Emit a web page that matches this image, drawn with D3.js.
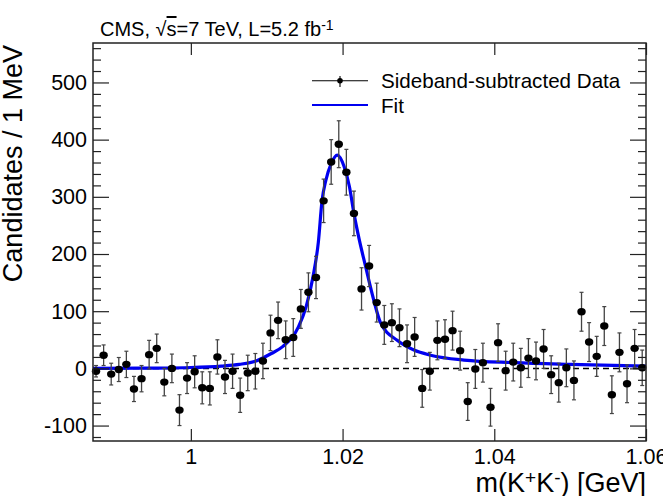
<!DOCTYPE html>
<html>
<head>
<meta charset="utf-8">
<script src="https://cdn.jsdelivr.net/npm/d3@7"></script>
<style>
  body { margin: 0; background: #fff; }
  svg { display: block; font-family: "Liberation Sans", Arial, Helvetica, sans-serif; }
</style>
</head>
<body>
<div id="chart"></div>
<script>
// bin centres (1 MeV bins) and sideband-subtracted counts
const massBins = [
  0.9875, 0.9885, 0.9895, 0.9905, 0.9915, 0.9925, 0.9935, 0.9945, 0.9955, 0.9965,
  0.9975, 0.9985, 0.9995, 1.0005, 1.0015, 1.0025, 1.0035, 1.0045, 1.0055, 1.0065,
  1.0075, 1.0085, 1.0095, 1.0105, 1.0115, 1.0125, 1.0135, 1.0145, 1.0155, 1.0165,
  1.0175, 1.0185, 1.0195, 1.0205, 1.0215, 1.0225, 1.0235, 1.0245, 1.0255, 1.0265,
  1.0275, 1.0285, 1.0295, 1.0305, 1.0315, 1.0325, 1.0335, 1.0345, 1.0355, 1.0365,
  1.0375, 1.0385, 1.0395, 1.0405, 1.0415, 1.0425, 1.0435, 1.0445, 1.0455, 1.0465,
  1.0475, 1.0485, 1.0495, 1.0505, 1.0515, 1.0525, 1.0535, 1.0545, 1.0555, 1.0565,
  1.0575, 1.0585, 1.0595
];
const counts = [
  -5, 23, -10, -2, 7, -36, -18, 24, 35, -24,
  0, -73, -17, -6, -34, -35, 20, -15, -5, -47,
  -8, -5, 13, 62, 84, 50, 54, 104, 133, 159,
  293, 361, 392, 343, 271, 139, 179, 115, 76, 80,
  71, 43, 55, -35, -5, 49, 51, 66, 31, -58,
  -1, 10, -68, 45, -4, 11, 1, 18, 13, 34,
  -11, -25, 1, -21, 99, 46, 21, 74, -46, 28,
  -27, 35, 1
];
const errors = [
  10, 18, 19, 21, 23, 22, 23, 25, 25, 24,
  25, 27, 27, 28, 28, 29, 30, 29, 30, 30,
  31, 31, 31, 31, 32, 33, 33, 34, 34, 37,
  38, 39, 41, 40, 39, 37, 36, 34, 34, 33,
  33, 33, 34, 33, 33, 34, 34, 34, 34, 33,
  34, 34, 33, 33, 34, 33, 34, 34, 33, 34,
  33, 34, 33, 34, 34, 34, 35, 34, 33, 34,
  33, 33, 31
];

// fit curve
const fitMass = [
  0.9871, 0.995, 1.000, 1.004, 1.0064, 1.0086, 1.0106, 1.0121, 1.0142, 1.0152,
  1.0161, 1.0168, 1.0173, 1.0178, 1.0185, 1.0193, 1.0202, 1.0209, 1.0215, 1.0222,
  1.0230, 1.0241, 1.0250, 1.0272, 1.0294, 1.0316, 1.0360, 1.0426, 1.050, 1.060
];
const fitValue = [
  0, 0.5, 1.5, 4, 7, 13, 26, 38, 73, 108,
  160, 220, 294, 329, 358, 373, 353, 318, 271, 225,
  180, 120, 80, 49, 32, 23, 14.5, 10, 7, 4
];

const xTicks = [1.0, 1.02, 1.04, 1.06];
const xTickLabels = ["1", "1.02", "1.04", "1.06"];
const yTicks = [-100, 0, 100, 200, 300, 400, 500];

const width = 663, height = 496;
const margin = { top: 43, right: 17, bottom: 55, left: 93 };

const svg = d3.select("#chart").append("svg")
  .attr("width", width)
  .attr("height", height);

const x = d3.scaleLinear()
  .domain([0.9871, 1.06])
  .range([margin.left, width - margin.right]);

const y = d3.scaleLinear()
  .domain([-127, 569])
  .range([height - margin.bottom, margin.top]);

const fontTick = 21.5;

// minor y ticks every 20
const yMinor = d3.range(-120, 570, 20).filter(v => v % 100 !== 0);

function yAxisLeft(g) {
  g.attr("transform", `translate(${margin.left},0)`)
    .call(d3.axisLeft(y).tickValues(yTicks).tickSize(-16).tickPadding(6)
      .tickFormat(d => d3.format("d")(d).replace("−", "-")))
    .attr("font-size", fontTick)
    .attr("font-family", null)
    .call(g => g.select(".domain").remove())
    .call(g => g.selectAll("line").attr("stroke", "#222").attr("stroke-width", 1.2))
    .call(g => g.selectAll("text").attr("fill", "#000"));
}

function yMinorLeft(g) {
  g.attr("transform", `translate(${margin.left},0)`)
    .call(d3.axisLeft(y).tickValues(yMinor).tickSize(-8).tickFormat(""))
    .call(g => g.select(".domain").remove())
    .call(g => g.selectAll("line").attr("stroke", "#222").attr("stroke-width", 1.2));
}

function yAxisRight(g) {
  g.attr("transform", `translate(${width - margin.right},0)`)
    .call(d3.axisRight(y).tickValues(yTicks).tickSize(-16).tickFormat(""))
    .call(g => g.select(".domain").remove())
    .call(g => g.selectAll("line").attr("stroke", "#222").attr("stroke-width", 1.2));
}

function yMinorRight(g) {
  g.attr("transform", `translate(${width - margin.right},0)`)
    .call(d3.axisRight(y).tickValues(yMinor).tickSize(-8).tickFormat(""))
    .call(g => g.select(".domain").remove())
    .call(g => g.selectAll("line").attr("stroke", "#222").attr("stroke-width", 1.2));
}

function xAxisBottom(g) {
  g.attr("transform", `translate(0,${height - margin.bottom})`)
    .call(d3.axisBottom(x).tickValues(xTicks).tickSize(-12).tickPadding(8)
      .tickFormat((d, i) => xTickLabels[i]))
    .attr("font-size", fontTick)
    .attr("font-family", null)
    .call(g => g.select(".domain").remove())
    .call(g => g.selectAll("line").attr("stroke", "#222").attr("stroke-width", 1.2))
    .call(g => g.selectAll("text").attr("fill", "#000"));
}

function xAxisTop(g) {
  g.attr("transform", `translate(0,${margin.top})`)
    .call(d3.axisTop(x).tickValues(xTicks).tickSize(-12).tickFormat(""))
    .call(g => g.select(".domain").remove())
    .call(g => g.selectAll("line").attr("stroke", "#222").attr("stroke-width", 1.2));
}

// zero line
svg.append("line")
  .attr("x1", x.range()[0]).attr("x2", x.range()[1])
  .attr("y1", y(0)).attr("y2", y(0))
  .attr("stroke", "#000")
  .attr("stroke-width", 1.5)
  .attr("stroke-dasharray", "6,4");

// fit curve
const fitData = fitMass.map((m, i) => ({ m: m, v: fitValue[i] }));
svg.append("path")
  .datum(fitData)
  .attr("fill", "none")
  .attr("stroke", "#0000f0")
  .attr("stroke-width", 3.2)
  .attr("d", d3.line().x(d => x(d.m)).y(d => y(d.v)).curve(d3.curveMonotoneX));

// data points with error bars
const pts = massBins.map((m, i) => ({ m: m, v: counts[i], e: errors[i] }));
const pg = svg.append("g");
pg.selectAll("line.err")
  .data(pts)
  .join("line")
  .attr("class", "err")
  .attr("x1", d => x(d.m)).attr("x2", d => x(d.m))
  .attr("y1", d => y(d.v - d.e)).attr("y2", d => y(d.v + d.e))
  .attr("stroke", "#444").attr("stroke-width", 1.3);
pg.selectAll("line.capt")
  .data(pts)
  .join("line")
  .attr("class", "capt")
  .attr("x1", d => x(d.m) - 2).attr("x2", d => x(d.m) + 2)
  .attr("y1", d => y(d.v + d.e)).attr("y2", d => y(d.v + d.e))
  .attr("stroke", "#444").attr("stroke-width", 1.2);
pg.selectAll("line.capb")
  .data(pts)
  .join("line")
  .attr("class", "capb")
  .attr("x1", d => x(d.m) - 2).attr("x2", d => x(d.m) + 2)
  .attr("y1", d => y(d.v - d.e)).attr("y2", d => y(d.v - d.e))
  .attr("stroke", "#444").attr("stroke-width", 1.2);
pg.selectAll("ellipse")
  .data(pts)
  .join("ellipse")
  .attr("cx", d => x(d.m)).attr("cy", d => y(d.v))
  .attr("rx", 4.2).attr("ry", 3.7)
  .attr("fill", "#000");

// axes and frame
svg.append("g").call(yMinorLeft);
svg.append("g").call(yAxisLeft);
svg.append("g").call(yMinorRight);
svg.append("g").call(yAxisRight);
svg.append("g").call(xAxisBottom);
svg.append("g").call(xAxisTop);

svg.append("rect")
  .attr("x", margin.left).attr("y", margin.top)
  .attr("width", width - margin.left - margin.right)
  .attr("height", height - margin.top - margin.bottom)
  .attr("fill", "none").attr("stroke", "#222").attr("stroke-width", 1.5);

// axis titles
const xt = svg.append("text")
  .attr("x", width - margin.right).attr("y", 492)
  .attr("text-anchor", "end")
  .attr("font-size", 27);
xt.append("tspan").text("m(K");
xt.append("tspan").attr("baseline-shift", "40%").attr("font-size", 19).text("+");
xt.append("tspan").text("K");
xt.append("tspan").attr("baseline-shift", "40%").attr("font-size", 19).text("-");
xt.append("tspan").text(") [GeV]");

svg.append("text")
  .attr("transform", `translate(22,${margin.top + 2}) rotate(-90)`)
  .attr("text-anchor", "end")
  .attr("font-size", 27)
  .text("Candidates / 1 MeV");

// header
const ht = svg.append("text")
  .attr("x", 100).attr("y", 36)
  .attr("font-size", 20);
ht.append("tspan").text("CMS, \u221A");
ht.append("tspan").style("text-decoration", "overline").text("s");
ht.append("tspan").text("=7 TeV, L=5.2 fb");
ht.append("tspan").attr("baseline-shift", "45%").attr("font-size", 14).text("-1");

// legend
const lg = svg.append("g");
lg.append("line").attr("x1", 312).attr("x2", 368).attr("y1", 80.7).attr("y2", 80.7)
  .attr("stroke", "#000").attr("stroke-width", 1.1);
lg.append("line").attr("x1", 340).attr("x2", 340).attr("y1", 76).attr("y2", 87)
  .attr("stroke", "#000").attr("stroke-width", 1.1);
lg.append("circle").attr("cx", 340).attr("cy", 80.7).attr("r", 2.8).attr("fill", "#000");
lg.append("text").attr("x", 381).attr("y", 87.5).attr("font-size", 20.6).text("Sideband-subtracted Data");
lg.append("line").attr("x1", 312).attr("x2", 368).attr("y1", 105).attr("y2", 105)
  .attr("stroke", "#0000f0").attr("stroke-width", 2);
lg.append("text").attr("x", 381).attr("y", 112.5).attr("font-size", 20.6).text("Fit");
</script>
</body>
</html>
